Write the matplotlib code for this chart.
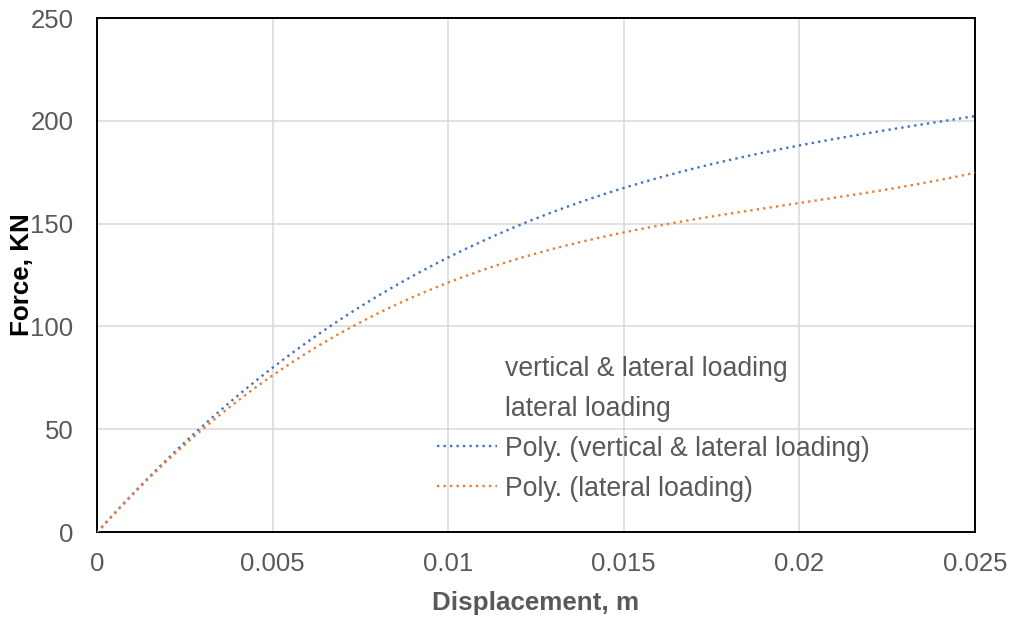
import numpy as np
import matplotlib
matplotlib.use("Agg")
import matplotlib.pyplot as plt
from matplotlib.lines import Line2D

plt.rcParams['font.family'] = ['Liberation Sans', 'DejaVu Sans']

# Measured force-displacement points
displacement = [0.0, 0.0025, 0.005, 0.0075, 0.01, 0.0125, 0.015, 0.0175, 0.02, 0.0225, 0.025]
force_vertical_lateral = [0, 43, 80, 110, 134, 152, 167, 179, 188, 196, 202]
force_lateral = [0, 41.5, 76, 103.5, 121.5, 134, 146, 153.5, 160, 167, 174.5]

label_vl = "vertical & lateral loading"
label_l = "lateral loading"

x_ticks = [0, 0.005, 0.01, 0.015, 0.02, 0.025]
x_tick_labels = ["0", "0.005", "0.01", "0.015", "0.02", "0.025"]
y_ticks = [0, 50, 100, 150, 200, 250]

BLUE = "#4472C4"
ORANGE = "#ED7D31"
GRID = "#D9D9D9"
TXT = "#595959"

W, H = 1014, 618
fig = plt.figure(figsize=(W / 100, H / 100), dpi=100)
ax = fig.add_axes([97 / W, 1 - 532 / H, 878 / W, 514 / H])

x = np.asarray(displacement)
# Polynomial (order 3) trendlines through the measured points
xs = np.linspace(0, 0.025, 300)
fit_vl = np.polyval(np.polyfit(x, force_vertical_lateral, 3), xs)
fit_l = np.polyval(np.polyfit(x, force_lateral, 3), xs)

dots = (0, (1.0, 1.75))
ax.plot(xs, fit_vl, color=BLUE, lw=1.7, linestyle=dots, zorder=3)
ax.plot(xs, fit_l, color=ORANGE, lw=1.7, linestyle=dots, zorder=3)

ax.set_xlim(0, 0.025)
ax.set_ylim(0, 250)
ax.set_xticks(x_ticks)
ax.set_xticklabels(x_tick_labels)
ax.set_yticks(y_ticks)
ax.grid(True, color=GRID, lw=1.1)
ax.set_axisbelow(True)
ax.tick_params(length=0, labelsize=18.5, colors=TXT)
ax.tick_params(axis='y', pad=17)
ax.tick_params(axis='x', pad=14.5)
for s in ax.spines.values():
    s.set_color("black")
    s.set_linewidth(1.4)

ax.set_xlabel("Displacement, m", fontsize=18.7, fontweight="bold", color=TXT)
ax.set_ylabel("Force, KN", fontsize=18.7, fontweight="bold", color="black")
ax.xaxis.set_label_coords(0.5, -(591 - 532) / 514)
ax.yaxis.set_label_coords((34 - 97) / 878, 0.5)

handles = [
    Line2D([], [], linestyle="none"),
    Line2D([], [], linestyle="none"),
    Line2D([], [], color=BLUE, lw=1.7, linestyle=dots),
    Line2D([], [], color=ORANGE, lw=1.7, linestyle=dots),
]
labels = [label_vl, label_l, "Poly. (" + label_vl + ")", "Poly. (" + label_l + ")"]
leg = ax.legend(handles, labels, loc="upper left",
                bbox_to_anchor=((437 - 97) / 878, (532 - 356) / 514),
                frameon=False, fontsize=19.2, handlelength=2.25, handletextpad=0.3,
                labelspacing=0.52, borderaxespad=0, borderpad=0)
for t in leg.get_texts():
    t.set_color(TXT)

fig.savefig("out.png", dpi=100)
